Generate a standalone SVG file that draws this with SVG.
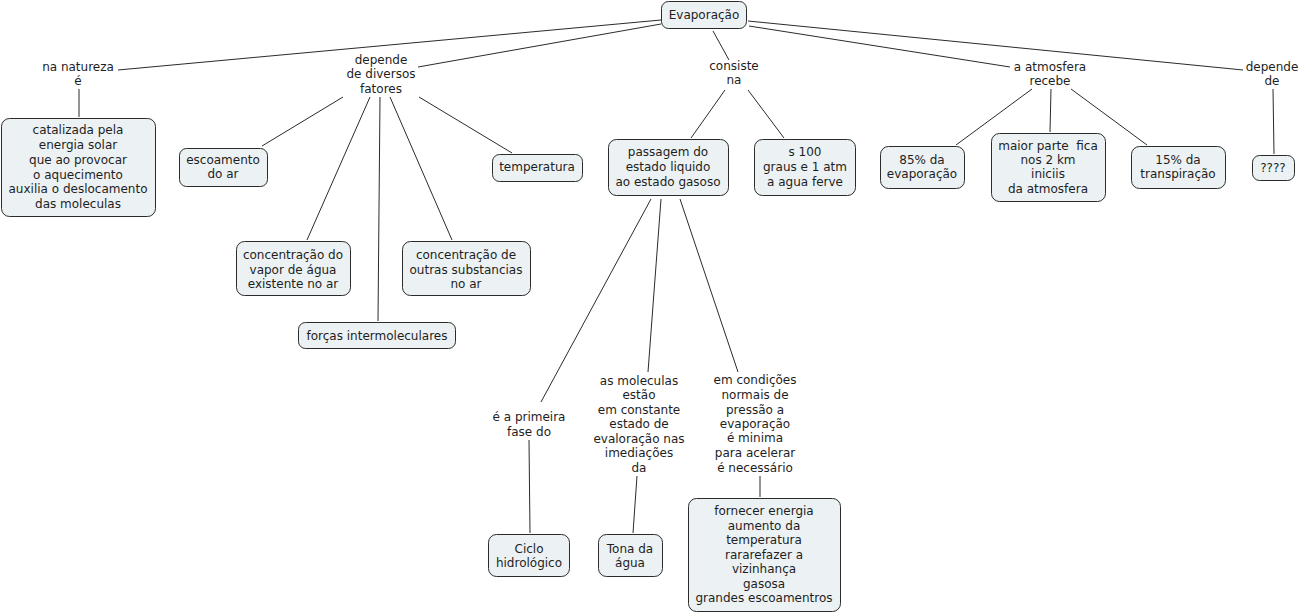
<svg xmlns="http://www.w3.org/2000/svg" width="1302" height="616" viewBox="0 0 1302 616">
<style>
text{font-family:"DejaVu Sans","Liberation Sans",sans-serif;font-size:12px;fill:#1e1e1e;text-anchor:middle}
.n rect{fill:#ecf2f4;stroke:#2b2b2b;stroke-width:1}
.c line{stroke:#2b2b2b;stroke-width:1}
.pre{white-space:pre}
</style>
<rect width="1302" height="616" fill="#fff"/>
<g class="c" id="connectors">
<line x1="661" y1="20" x2="118" y2="70"/>
<line x1="79" y1="89" x2="79" y2="117"/>
<line x1="661" y1="24" x2="418" y2="67"/>
<line x1="343" y1="97" x2="262" y2="146"/>
<line x1="370" y1="97" x2="307" y2="240"/>
<line x1="380" y1="97" x2="378" y2="321"/>
<line x1="390" y1="97" x2="452" y2="240"/>
<line x1="419" y1="97" x2="512" y2="153"/>
<line x1="713" y1="31" x2="729" y2="60"/>
<line x1="725" y1="90" x2="691" y2="138"/>
<line x1="748" y1="90" x2="784" y2="138"/>
<line x1="749" y1="26" x2="1010" y2="67"/>
<line x1="1032" y1="89" x2="956" y2="145"/>
<line x1="1051" y1="89" x2="1050" y2="132"/>
<line x1="1071" y1="89" x2="1147" y2="145"/>
<line x1="748" y1="21" x2="1243" y2="70"/>
<line x1="1273" y1="89" x2="1274" y2="154"/>
<line x1="651" y1="199" x2="541" y2="402"/>
<line x1="529" y1="440" x2="530" y2="533"/>
<line x1="661" y1="199" x2="648" y2="372"/>
<line x1="637" y1="476" x2="633" y2="533"/>
<line x1="680" y1="199" x2="738" y2="372"/>
<line x1="760" y1="476" x2="760" y2="497"/>
</g>
<g class="n" id="evaporacao"><rect x="661.5" y="1.5" width="85" height="27" rx="7"/><text x="704" y="19">Evaporação</text></g>
<g id="l-natureza"><text x="78" y="71">na natureza</text><text x="78" y="85">é</text></g>
<g class="n" id="catalizada"><rect x="1.5" y="118.5" width="154" height="98" rx="8"/>
<text x="78" y="134">catalizada pela</text><text x="78" y="149">energia solar</text><text x="78" y="164">que ao provocar</text><text x="78" y="179">o aquecimento</text><text x="78" y="193">auxilia o deslocamento</text><text x="78" y="208">das moleculas</text></g>
<g id="l-depende-fatores"><text x="381" y="64">depende</text><text x="381" y="78">de diversos</text><text x="381" y="93">fatores</text></g>
<g class="n" id="escoamento"><rect x="179.5" y="148.5" width="88" height="38" rx="7"/><text x="223" y="164">escoamento</text><text x="223" y="178">do ar</text></g>
<g class="n" id="temperatura"><rect x="492.5" y="154.5" width="90" height="27" rx="7"/><text x="537" y="171">temperatura</text></g>
<g class="n" id="conc-vapor"><rect x="236.5" y="241.5" width="114" height="54" rx="8"/><text x="293" y="259">concentração do</text><text x="293" y="274">vapor de água</text><text x="293" y="288">existente no ar</text></g>
<g class="n" id="conc-outras"><rect x="402.5" y="241.5" width="128" height="54" rx="8"/><text x="466" y="259">concentração de</text><text x="466" y="274">outras substancias</text><text x="466" y="288">no ar</text></g>
<g class="n" id="forcas"><rect x="298.5" y="322.5" width="157" height="26" rx="7"/><text x="377" y="340">forças intermoleculares</text></g>
<g id="l-consiste"><text x="734" y="70">consiste</text><text x="734" y="84">na</text></g>
<g class="n" id="passagem"><rect x="608.5" y="139.5" width="120" height="56" rx="8"/><text x="668" y="156">passagem do</text><text x="668" y="171">estado liquido</text><text x="668" y="186">ao estado gasoso</text></g>
<g class="n" id="s100"><rect x="754.5" y="139.5" width="101" height="56" rx="8"/><text x="805" y="156">s 100</text><text x="805" y="171">graus e 1 atm</text><text x="805" y="186">a agua ferve</text></g>
<g id="l-atmosfera"><text x="1050" y="71">a atmosfera</text><text x="1050" y="85">recebe</text></g>
<g class="n" id="p85"><rect x="880.5" y="146.5" width="84" height="42" rx="8"/><text x="922" y="164">85% da</text><text x="922" y="178">evaporação</text></g>
<g class="n" id="maior"><rect x="991.5" y="133.5" width="114" height="68" rx="8"/><text class="pre" x="1048" y="150">maior parte  fica</text><text x="1048" y="164">nos 2 km</text><text x="1048" y="178">iniciis</text><text x="1048" y="193">da atmosfera</text></g>
<g class="n" id="p15"><rect x="1131.5" y="146.5" width="94" height="42" rx="8"/><text x="1178" y="164">15% da</text><text x="1178" y="178">transpiração</text></g>
<g id="l-depende-de"><text x="1272" y="71">depende</text><text x="1272" y="85">de</text></g>
<g class="n" id="q"><rect x="1252.5" y="155.5" width="42" height="25" rx="7"/><text x="1273" y="172">????</text></g>
<g id="l-primeira"><text x="529" y="421">é a primeira</text><text x="529" y="436">fase do</text></g>
<g class="n" id="ciclo"><rect x="488.5" y="534.5" width="81" height="42" rx="8"/><text x="529" y="553">Ciclo</text><text x="529" y="567">hidrológico</text></g>
<g id="l-moleculas"><text x="639" y="385">as moleculas</text><text x="639" y="399">estão</text><text x="639" y="414">em constante</text><text x="639" y="428">estado de</text><text x="639" y="443">evaloração nas</text><text x="639" y="457">imediações</text><text x="639" y="472">da</text></g>
<g class="n" id="tona"><rect x="598.5" y="534.5" width="64" height="42" rx="8"/><text x="630" y="553">Tona da</text><text x="630" y="567">água</text></g>
<g id="l-condicoes"><text x="755" y="384">em condições</text><text x="755" y="399">normais de</text><text x="755" y="414">pressão a</text><text x="755" y="428">evaporação</text><text x="755" y="442">é minima</text><text x="755" y="457">para acelerar</text><text x="755" y="472">é necessário</text></g>
<g class="n" id="fornecer"><rect x="688.5" y="498.5" width="152" height="113" rx="8"/><text x="764" y="515">fornecer energia</text><text x="764" y="530">aumento da</text><text x="764" y="544">temperatura</text><text x="764" y="559">rararefazer a</text><text x="764" y="573">vizinhança</text><text x="764" y="588">gasosa</text><text x="764" y="602">grandes escoamentros</text></g>
</svg>
